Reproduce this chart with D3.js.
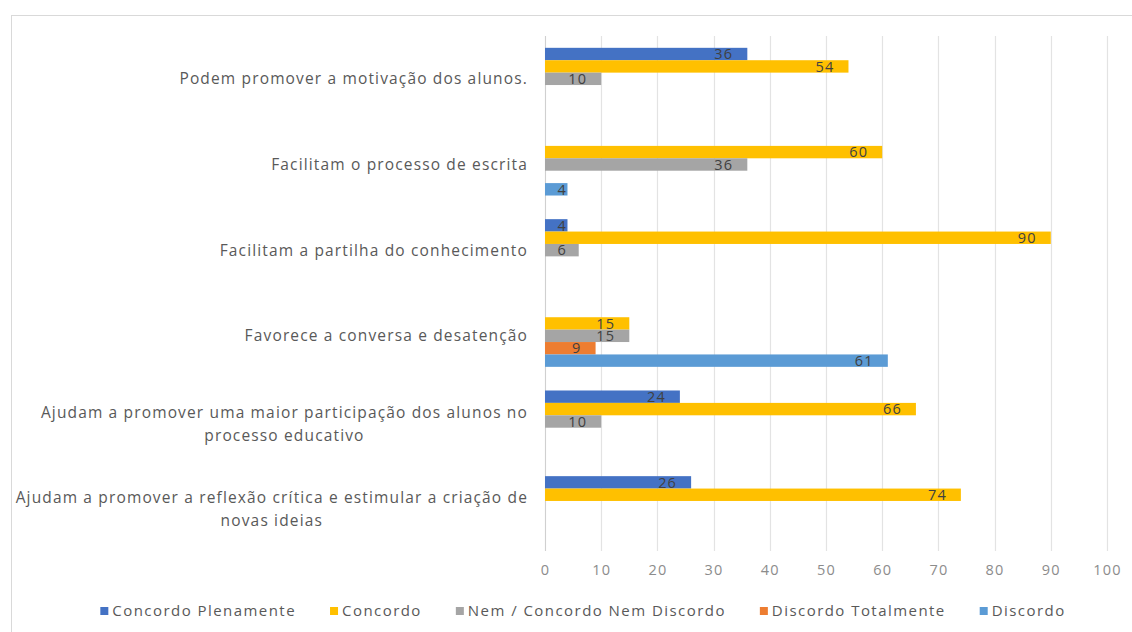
<!DOCTYPE html>
<html>
<head>
<meta charset="utf-8">
<script src="https://cdn.jsdelivr.net/npm/d3@7"></script>
<style>
  html, body { margin: 0; padding: 0; background: #fff; }
  svg { display: block; font-family: "Open Sans", sans-serif; }
  .lbl { letter-spacing: 1.2px; }
  .cat { letter-spacing: 1.15px; }
  .leg { letter-spacing: 1.45px; }
</style>
</head>
<body>
<svg id="chart" width="1132" height="632"></svg>
<script>
// categorias (de cima para baixo), quebras de linha como no original
const categories = [
  "Podem promover a motivação dos alunos.",
  "Facilitam o processo de escrita",
  "Facilitam a partilha do conhecimento",
  "Favorece a conversa e desatenção",
  "Ajudam a promover uma maior participação dos alunos no\nprocesso educativo",
  "Ajudam a promover a reflexão crítica e estimular a criação de\nnovas ideias"
];

const seriesNames = [
  "Concordo Plenamente",
  "Concordo",
  "Nem / Concordo Nem Discordo",
  "Discordo Totalmente",
  "Discordo"
];

// valores por série, na ordem das categorias (null = sem barra)
const plenamente = [36, null, 4, null, 24, 26];
const concordo   = [54, 60, 90, 15, 66, 74];
const nem        = [10, 36, 6, 15, 10, null];
const totalmente = [null, null, null, 9, null, null];
const discordo   = [null, 4, null, 61, null, null];

const xTicks = [0, 10, 20, 30, 40, 50, 60, 70, 80, 90, 100];

const colors = ["#4472C4", "#FFC000", "#A5A5A5", "#ED7D31", "#5B9BD5"];
const seriesValues = [plenamente, concordo, nem, totalmente, discordo];

const svg = d3.select("#chart");

// moldura clara do gráfico
svg.append("rect")
    .attr("x", 11.5).attr("y", 15.5)
    .attr("width", 1200).attr("height", 700)
    .attr("fill", "none")
    .attr("stroke", "#d9d9d9");

const x = d3.scaleLinear().domain([0, 100]).range([545, 1107]);

const y0 = d3.scaleBand()
    .domain(categories)
    .range([36, 550])
    .paddingInner(0.276)
    .paddingOuter(0.138);

const y1 = d3.scaleBand()
    .domain(seriesNames)
    .range([0, y0.bandwidth()]);

const color = d3.scaleOrdinal().domain(seriesNames).range(colors);

// linhas de grade
svg.append("g")
  .selectAll("line")
  .data(xTicks)
  .join("line")
    .attr("x1", d => Math.round(x(d)) + 0.5)
    .attr("x2", d => Math.round(x(d)) + 0.5)
    .attr("y1", 36)
    .attr("y2", 551)
    .attr("stroke", "#e3e3e3")
    .attr("stroke-width", 1.2);

// eixo x (só os rótulos)
const xAxis = svg.append("g")
    .attr("transform", "translate(0,551)")
    .call(d3.axisBottom(x).tickValues(xTicks).tickSize(0).tickPadding(14));
xAxis.select(".domain").remove();
xAxis.selectAll("text")
    .attr("class", "lbl")
    .attr("font-size", 14.5)
    .attr("font-family", "Open Sans, sans-serif")
    .attr("fill", "#8c8c8c");

// linha do eixo vertical
svg.append("line")
    .attr("x1", x(0) + 0.5).attr("x2", x(0) + 0.5)
    .attr("y1", 36).attr("y2", 551)
    .attr("stroke", "#d0d0d0");

// dados em formato longo
const rows = [];
categories.forEach((cat, i) => {
  seriesNames.forEach((s, j) => {
    const v = seriesValues[j][i];
    if (v != null) rows.push({ cat, series: s, value: v });
  });
});

const bars = svg.append("g");

bars.selectAll("rect")
  .data(rows)
  .join("rect")
    .attr("x", x(0))
    .attr("y", d => y0(d.cat) + y1(d.series))
    .attr("width", d => x(d.value) - x(0))
    .attr("height", y1.bandwidth())
    .attr("fill", d => color(d.series));

bars.selectAll("text")
  .data(rows)
  .join("text")
    .attr("class", "lbl")
    .attr("x", d => Math.max(x(d.value) - 14, x(0) + 22))
    .attr("y", d => y0(d.cat) + y1(d.series) + y1.bandwidth() / 2)
    .attr("dy", "0.36em")
    .attr("text-anchor", "end")
    .attr("font-size", 14.5)
    .attr("fill", "#404040")
    .text(d => d.value);

// rótulos das categorias: bloco alinhado à direita, linhas centradas
const catG = svg.append("g");
categories.forEach(cat => {
  const lines = cat.split("\n");
  const g = catG.append("g");
  const t = g.append("text")
      .attr("class", "cat")
      .attr("font-size", 15.5)
      .attr("fill", "#595959");
  const lh = 23;
  const cy = y0(cat) + y0.bandwidth() / 2 + (lines.length > 1 ? 2 : 0);
  lines.forEach((ln, k) => {
    t.append("tspan")
      .attr("y", cy + (k - (lines.length - 1) / 2) * lh)
      .attr("dy", "0.36em")
      .text(ln);
  });
  // mede a linha mais larga para centrar as restantes
  let maxW = 0;
  t.selectAll("tspan").each(function () {
    maxW = Math.max(maxW, this.getComputedTextLength());
  });
  const right = 528;
  t.attr("text-anchor", "middle")
    .selectAll("tspan")
    .attr("x", right - maxW / 2);
});

// legenda
const legend = svg.append("g");
const items = legend.selectAll("g")
  .data(seriesNames)
  .join("g");

items.append("rect")
    .attr("width", 8)
    .attr("height", 8)
    .attr("y", -4)
    .attr("fill", d => color(d));

items.append("text")
    .attr("class", "leg")
    .attr("x", 12)
    .attr("dy", "0.36em")
    .attr("font-size", 15)
    .attr("fill", "#595959")
    .text(d => d);

let widths = [];
items.each(function () {
  widths.push(this.querySelector("text").getComputedTextLength() + 12);
});
const gap = 34;
const total = d3.sum(widths) + gap * (widths.length - 1);
let cx = 583 - total / 2;
items.each(function (d, i) {
  d3.select(this).attr("transform", `translate(${cx},611)`);
  cx += widths[i] + gap;
});
</script>
</body>
</html>
